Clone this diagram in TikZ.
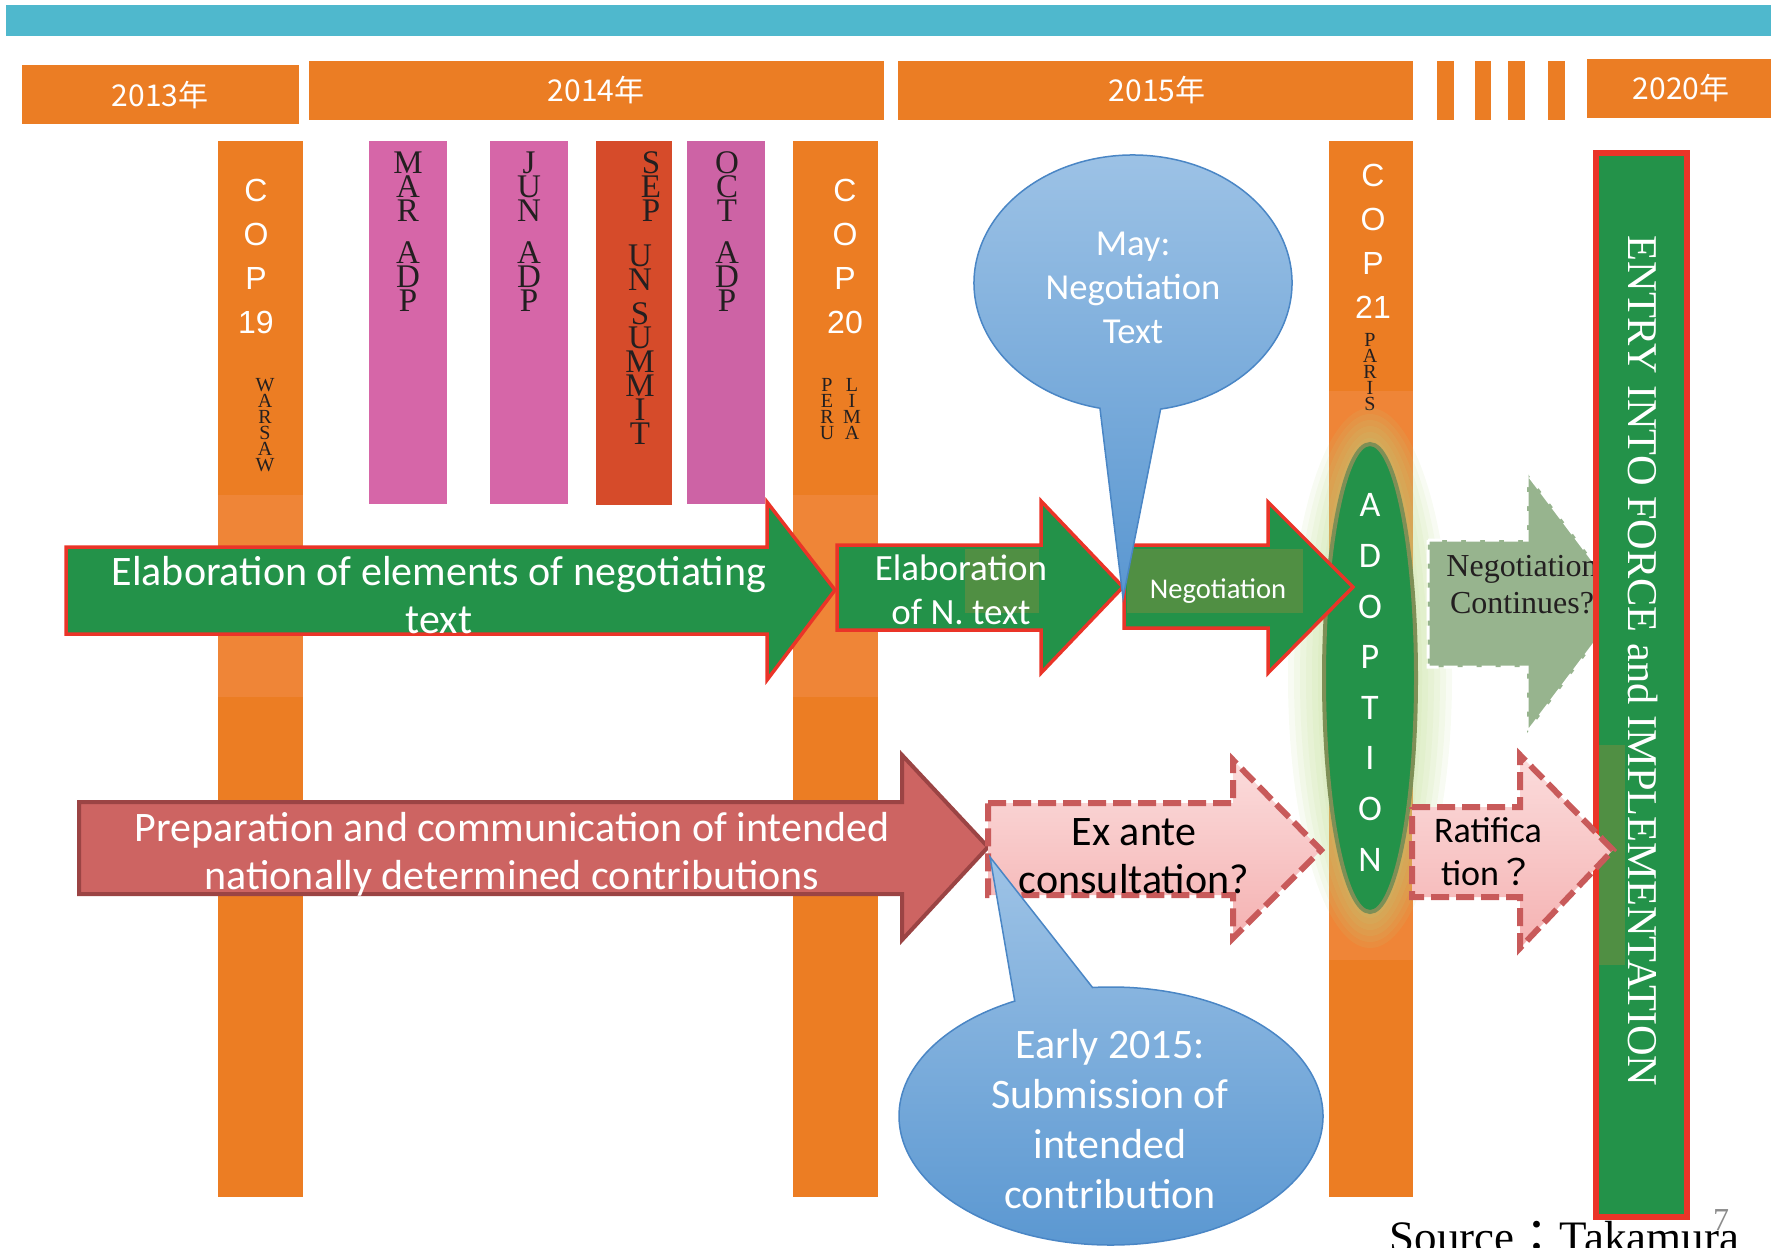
\documentclass[tikz,border=0pt]{standalone}
\usepackage{fontspec}
\setmainfont{Liberation Serif}
\newfontfamily\cjkfont{Noto Sans CJK JP}
\newfontfamily\calfont{Carlito}
\newfontfamily\arialfont{Liberation Sans}
\lineskiplimit=-100pt

\tikzset{every picture/.style={line width=0.75pt}}
\tikzset{
  topband/.style={draw opacity=0, fill={rgb, 255:red, 79; green, 184; blue, 205}},
  yearbox/.style={draw opacity=0, fill={rgb, 255:red, 235; green, 125; blue, 36}},
  copbar/.style={draw opacity=0, fill={rgb, 255:red, 236; green, 125; blue, 35}},
  copshade/.style={draw opacity=0, fill={rgb, 255:red, 239; green, 133; blue, 55}},
  monthbar/.style={draw opacity=0, fill={rgb, 255:red, 214; green, 102; blue, 168}},
  summitbar/.style={draw opacity=0, fill={rgb, 255:red, 214; green, 75; blue, 42}},
  greenarrow/.style={draw={rgb, 255:red, 234; green, 52; blue, 40}, fill={rgb, 255:red, 35; green, 146; blue, 73}, line width=1.75, line join=miter},
  olivepatch/.style={draw opacity=0, fill={rgb, 255:red, 80; green, 143; blue, 67}},
  redarrow/.style={draw={rgb, 255:red, 155; green, 68; blue, 68}, fill={rgb, 255:red, 205; green, 100; blue, 98}, line width=2, line join=miter},
  pinkarrow/.style={draw={rgb, 255:red, 200; green, 90; blue, 90}, top color={rgb, 255:red, 251; green, 220; blue, 220}, bottom color={rgb, 255:red, 245; green, 178; blue, 178}, line width=3, dash pattern=on 9pt off 3.5pt, line join=miter},
  greyarrow/.style={draw=white, fill={rgb, 255:red, 151; green, 180; blue, 142}, line width=1.5, dash pattern=on 7pt off 2.5pt},
  bluebubble/.style={draw={rgb, 255:red, 74; green, 134; blue, 197}, top color={rgb, 255:red, 158; green, 195; blue, 230}, bottom color={rgb, 255:red, 90; green, 151; blue, 209}, line width=0.75},
  glowell/.style={fill={rgb, 255:red, 185; green, 218; blue, 134}, fill opacity=0.1, draw opacity=0},
  adoptell/.style={draw={rgb, 255:red, 126; green, 143; blue, 86}, fill={rgb, 255:red, 35; green, 146; blue, 73}, line width=2},
  entrybar/.style={draw={rgb, 255:red, 234; green, 52; blue, 40}, line width=2.75},
  yeartext/.style={font=\cjkfont\fontsize{15}{18}\selectfont, text=white, inner sep=0pt, anchor=base},
  coptext/.style={font=\arialfont\fontsize{16}{22}\selectfont, text=white, align=center, inner sep=0pt, anchor=north},
  monthtext/.style={font=\fontsize{16.5}{12}\selectfont, text={rgb, 255:red, 35; green, 31; blue, 32}, align=center, inner sep=0pt, anchor=north},
  citytext/.style={font=\fontsize{10}{8}\selectfont, text={rgb, 255:red, 35; green, 31; blue, 32}, align=center, inner sep=0pt, anchor=north},
  adopttext/.style={font=\calfont\fontsize{18}{25.3}\selectfont, text=white, align=center, inner sep=0pt, anchor=north},
  arrowtext/.style={font=\calfont\fontsize{21}{24}\selectfont, text=white, align=center, inner sep=0pt, anchor=north},
  darktext/.style={font=\calfont\fontsize{21}{24}\selectfont, text=black, align=center, inner sep=0pt, anchor=north},
  serifdark/.style={font=\fontsize{16}{18.5}\selectfont, text={rgb, 255:red, 35; green, 31; blue, 32}, align=center, inner sep=0pt, anchor=north},
  entrytext/.style={font=\fontsize{21.2}{24}\selectfont, text=white, inner sep=0pt, rotate=-90}
}

\begin{document}
\begin{tikzpicture}[x=0.5pt,y=0.5pt,yscale=-1,xscale=1]
\useasboundingbox (0,0) rectangle (1771,1247);

%Shape: Rectangle [top band]
\draw [topband] (6,5) -- (1771,5) -- (1771,36) -- (6,36) -- cycle ;

%Shape: Rectangle [year boxes]
\draw [yearbox] (22,65) -- (299,65) -- (299,124) -- (22,124) -- cycle ;
\draw [yearbox] (309,61) -- (884,61) -- (884,120) -- (309,120) -- cycle ;
\draw [yearbox] (898,61) -- (1413,61) -- (1413,120) -- (898,120) -- cycle ;
\draw [yearbox] (1437,61) -- (1454,61) -- (1454,120) -- (1437,120) -- cycle ;
\draw [yearbox] (1475,61) -- (1491,61) -- (1491,120) -- (1475,120) -- cycle ;
\draw [yearbox] (1508,61) -- (1525,61) -- (1525,120) -- (1508,120) -- cycle ;
\draw [yearbox] (1548,61) -- (1565,61) -- (1565,120) -- (1548,120) -- cycle ;
\draw [yearbox] (1587,59) -- (1771,59) -- (1771,118) -- (1587,118) -- cycle ;

% Text Node
\draw (160,107) node [yeartext] (y2013) {2013年};
% Text Node
\draw (596,102) node [yeartext] (y2014) {2014年};
% Text Node
\draw (1157,102) node [yeartext] (y2015) {2015年};
% Text Node
\draw (1681,100) node [yeartext] (y2020) {2020年};

%Shape: Rectangle [COP bars]
\draw [copbar] (218,141) -- (303,141) -- (303,1197) -- (218,1197) -- cycle ;
\draw [copbar] (793,141) -- (878,141) -- (878,1197) -- (793,1197) -- cycle ;
\draw [copbar] (1329,141) -- (1413,141) -- (1413,1197) -- (1329,1197) -- cycle ;
\draw [copshade] (218,495) -- (303,495) -- (303,697) -- (218,697) -- cycle ;
\draw [copshade] (793,495) -- (878,495) -- (878,697) -- (793,697) -- cycle ;
\draw [copshade] (1329,391) -- (1413,391) -- (1413,960) -- (1329,960) -- cycle ;

%Shape: Rectangle [meeting bars]
\draw [monthbar] (369,141) -- (447,141) -- (447,504) -- (369,504) -- cycle ;
\draw [monthbar] (490,141) -- (568,141) -- (568,504) -- (490,504) -- cycle ;
\draw [summitbar] (596,141) -- (672,141) -- (672,505) -- (596,505) -- cycle ;
\draw [monthbar, fill={rgb, 255:red, 205; green, 99; blue, 165}] (687,141) -- (765,141) -- (765,504) -- (687,504) -- cycle ;

% Text Node
\draw (256,178) node [coptext] (cop19) {C\\O\\P\\19};
% Text Node
\draw (265,378) node [citytext] (warsaw) {W\\A\\R\\S\\A\\W};
% Text Node
\draw (408,151) node [monthtext] (mar) {M\\A\\R\\[9pt]A\\D\\P};
% Text Node
\draw (529,151) node [monthtext] (jun) {J\\U\\N\\[9pt]A\\D\\P};
% Text Node
\draw (651,151) node [monthtext] (sep) {S\\E\\P};
% Text Node
\draw (640,244) node [monthtext] (unsummit) {U\\N\\[5pt]S\\U\\M\\M\\I\\T};
% Text Node
\draw (727,151) node [monthtext] (oct) {O\\C\\T\\[9pt]A\\D\\P};
% Text Node
\draw (845,178) node [coptext] (cop20) {C\\O\\P\\20};
% Text Node
\draw (827,378) node [citytext] (peru) {P\\E\\R\\U};
% Text Node
\draw (852,378) node [citytext] (lima) {L\\I\\M\\A};
% Text Node
\draw (1373,163) node [coptext] (cop21) {C\\O\\P\\21};
% Text Node
\draw (1370,333) node [citytext] (paris) {P\\A\\R\\I\\S};

%Shape: Ellipse [glow]
\draw [glowell] (1370,678) ellipse [x radius=52, y radius=240] ;
\draw [glowell] (1370,678) ellipse [x radius=58, y radius=246] ;
\draw [glowell] (1370,678) ellipse [x radius=64, y radius=252] ;
\draw [glowell] (1370,678) ellipse [x radius=70, y radius=258] ;
\draw [glowell] (1370,678) ellipse [x radius=76, y radius=264] ;
\draw [glowell] (1370,678) ellipse [x radius=82, y radius=270] ;
%Shape: Ellipse [adoption]
\draw [adoptell] (1370,678) ellipse [x radius=46, y radius=234] ;
% Text Node
\draw (1370,493) node [adopttext] (adopt) {A\\D\\O\\P\\T\\I\\O\\N};

%Shape: Right Arrow [elements]
\draw [greenarrow] (66,547) -- (767,547) -- (767,502) -- (835,590) -- (767,680) -- (767,634) -- (66,634) -- cycle ;
%Shape: Right Arrow [N. text]
\draw [greenarrow] (837,545) -- (1041,545) -- (1041,501) -- (1123,587) -- (1041,673) -- (1041,630) -- (837,630) -- cycle ;
\draw [olivepatch] (965,549) -- (1039,549) -- (1039,613) -- (965,613) -- cycle ;
%Shape: Right Arrow [negotiation]
\draw [greenarrow] (1124,545) -- (1268,545) -- (1268,502) -- (1353,587) -- (1268,673) -- (1268,628) -- (1124,628) -- cycle ;
\draw [olivepatch] (1127,549) -- (1303,549) -- (1303,613) -- (1127,613) -- cycle ;

% Text Node
\draw (439,556) node [arrowtext] (elab) {Elaboration of elements of negotiating\\text};
% Text Node
\draw (961,554) node [arrowtext, font=\calfont\fontsize{18.5}{22}\selectfont] (elabn) {Elaboration\\of N. text};
% Text Node
\draw (1218,598) node [arrowtext, anchor=base, font=\calfont\fontsize{14.3}{17}\selectfont] (nego) {Negotiation};

%Shape: Right Arrow [INDC]
\draw [redarrow] (79,802) -- (902,802) -- (902,755) -- (988,847) -- (902,940) -- (902,894) -- (79,894) -- cycle ;
% Text Node
\draw (512,812) node [arrowtext] (prep) {Preparation and communication of intended\\nationally determined contributions};

%Shape: Right Arrow [ex ante]
\draw [pinkarrow] (988,803) -- (1233,803) -- (1233,760) -- (1321,850) -- (1233,938) -- (1233,895) -- (988,895) -- cycle ;
% Text Node
\draw (1134,818) node [darktext] (exante) {Ex ante\\consultation?};

%Shape: Speech Bubble [May]
\draw [bluebubble] (1133,283) ++(102:159 and 128) arc [start angle=102, end angle=440, x radius=159, y radius=128] -- (1123,598) -- cycle ;
% Text Node
\draw (1133,231) node [arrowtext, font=\calfont\fontsize{18.3}{22}\selectfont] (may) {May:\\Negotiation\\Text};

%Shape: Speech Bubble [early 2015]
\draw [bluebubble] (1111,1116) ++(265:212 and 129) arc [start angle=265, end angle=603, x radius=212, y radius=129] -- (990,857) -- cycle ;
% Text Node
\draw (1110,1029) node [arrowtext, font=\calfont\fontsize{21}{25}\selectfont] (early) {Early 2015:\\Submission of\\intended\\contribution};

%Shape: Right Arrow [continues]
\draw [greyarrow] (1428,540) -- (1527,540) -- (1527,473) -- (1625,603) -- (1527,733) -- (1527,667) -- (1428,667) -- cycle ;
% Text Node
\draw (1522,555) node [serifdark] (cont) {Negotiation\\Continues?};

%Shape: Rectangle [entry into force]
\fill [fill={rgb, 255:red, 35; green, 146; blue, 73}] (1596,153) -- (1687,153) -- (1687,1217) -- (1596,1217) -- cycle ;
\draw [olivepatch] (1598,745) -- (1625,745) -- (1625,965) -- (1598,965) -- cycle ;
\draw [entrybar] (1596,153) -- (1687,153) -- (1687,1217) -- (1596,1217) -- cycle ;
% Text Node
\draw (1643,661) node [entrytext] (entry) {ENTRY INTO FORCE and IMPLEMENTATION};

%Shape: Right Arrow [ratification]
\draw [pinkarrow] (1412,807) -- (1520,807) -- (1520,755) -- (1613,850) -- (1520,948) -- (1520,897) -- (1412,897) -- cycle ;
% Text Node
\draw (1488,817) node [darktext, font=\calfont\fontsize{18}{21.5}\selectfont] (ratif) {Ratifica\\tion{\cjkfont ？}};

% Text Node
\draw (1389,1252) node [anchor=base west, inner sep=0pt, font=\fontsize{22.5}{26}\selectfont] (source) {Source{\cjkfont ：}Takamura};
% Text Node
\draw (1721,1230) node [anchor=base, inner sep=0pt, font=\fontsize{16}{18}\selectfont, text={rgb, 255:red, 140; green, 140; blue, 140}] (page) {7};
\end{tikzpicture}
\end{document}
